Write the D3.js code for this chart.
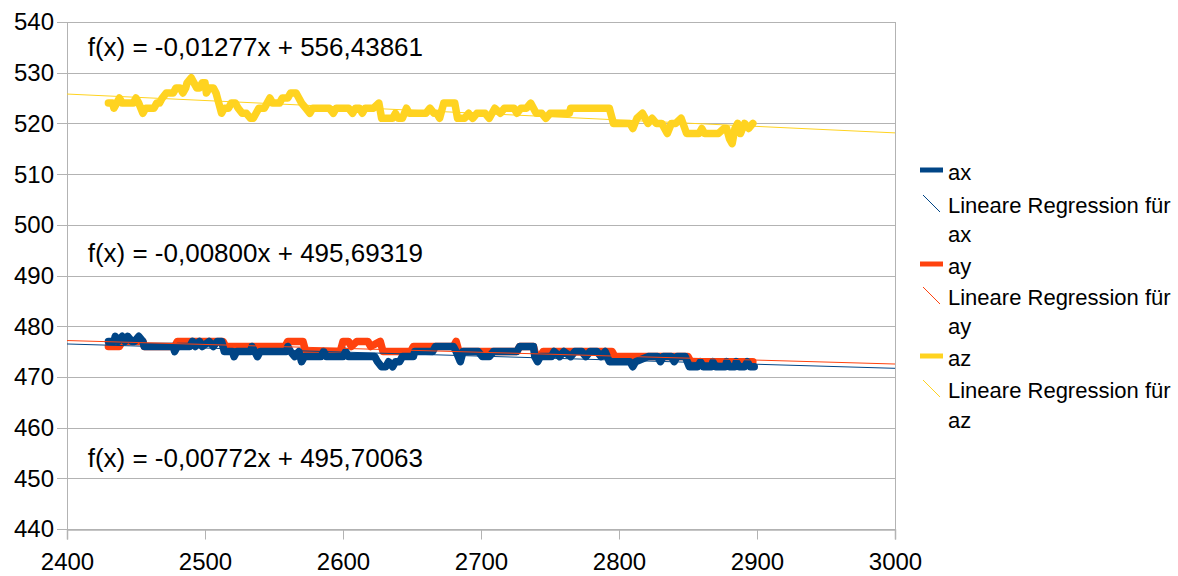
<!DOCTYPE html>
<html>
<head>
<meta charset="utf-8">
<script src="https://cdn.jsdelivr.net/npm/d3@7"></script>
<style>
  html, body { margin: 0; padding: 0; background: #fff; }
  svg { display: block; font-family: "Liberation Sans", Arial, sans-serif; }
</style>
</head>
<body>
<svg id="chart" width="1178" height="576"></svg>
<script>
// Axis ticks
const xTicks = [2400, 2500, 2600, 2700, 2800, 2900, 3000];
const yTicks = [440, 450, 460, 470, 480, 490, 500, 510, 520, 530, 540];

// Sensor series (sample index, reading)
const azX = [2430,2433,2434,2436,2438,2440,2448,2450,2452,2455,2457,2463,2465,2467,2469,2472,2477,2479,2482,2484,2486,2487,2490,2492,2494,2496,2498,2500,2501,2503,2506,2508,2510,2512,2514,2517,2519,2522,2524,2527,2530,2533,2535,2537,2539,2543,2545,2547,2549,2554,2556,2560,2562,2566,2568,2570,2573,2576,2578,2590,2593,2595,2604,2607,2609,2612,2614,2616,2622,2626,2628,2634,2636,2638,2640,2643,2646,2648,2660,2663,2666,2668,2670,2673,2681,2683,2688,2691,2694,2697,2703,2706,2710,2714,2717,2722,2724,2726,2729,2733,2736,2740,2744,2747,2750,2764,2765,2793,2796,2808,2810,2813,2817,2821,2824,2827,2831,2835,2838,2841,2845,2849,2858,2860,2862,2872,2876,2878,2880,2882,2884,2886,2888,2891,2894,2897];
const azY = [524,524,523,524,525,524,524,525,524,522,523,523,524,524,525,526,526,527,527,526,527,528,529,528,527,527,528,528,526,527,527,526,524,522,523,523,524,524,523,522,522,521,521,522,523,523,524,525,524,524,525,525,526,526,525,524,523,522,523,523,522,523,523,522,523,523,522,523,523,524,521,521,521,522,521,521,523,522,522,523,522,522,521,524,524,521,521,522,521,522,522,521,523,522,523,523,523,522,523,523,524,522,522,521,522,522,523,523,520,520,519,521,522,520,521,520,520,518,520,520,521,518,518,519,518,518,519,519,517,516,519,520,518,520,519,520];

const axX = [2430,2434,2435,2437,2440,2442,2444,2447,2449,2452,2455,2456,2477,2478,2480,2489,2491,2493,2496,2498,2503,2506,2509,2512,2514,2520,2521,2523,2533,2534,2536,2538,2540,2559,2560,2562,2565,2568,2570,2572,2584,2586,2588,2600,2602,2604,2612,2623,2625,2628,2631,2633,2636,2638,2641,2643,2651,2652,2665,2667,2680,2682,2685,2687,2695,2698,2701,2706,2709,2726,2728,2738,2739,2741,2743,2751,2753,2757,2760,2765,2768,2773,2776,2779,2784,2787,2790,2793,2808,2810,2812,2821,2828,2830,2832,2838,2840,2842,2848,2851,2857,2859,2861,2867,2868,2870,2877,2878,2880,2884,2885,2887,2891,2893,2895,2898];
const axY = [477,477,478,477,478,477,478,477,477,478,477,476,476,475,476,476,477,476,477,476,477,476,477,477,475,475,474,475,475,476,475,474,475,475,476,475,474,475,473,474,474,475,474,474,475,474,474,474,473,472,472,473,472,473,473,474,474,475,475,476,476,475,473,475,475,475,474,474,475,475,476,476,474,473,474,474,475,474,475,474,475,475,474,475,475,474,475,473,473,472,473,474,474,473,474,474,473,474,474,472,472,473,472,472,473,472,472,473,472,472,473,472,472,473,472,472];

const ayX = [2430,2438,2440,2455,2456,2478,2480,2513,2515,2558,2560,2571,2573,2598,2600,2604,2606,2610,2612,2618,2620,2627,2629,2649,2651,2680,2682,2684,2726,2728,2738,2740,2743,2745,2795,2797,2850,2852,2897];
const ayY = [476,476,477,477,476,476,477,477,476,476,477,477,475,475,477,477,476,477,477,477,476,477,475,475,476,476,477,475,475,476,476,474,474,475,475,474,474,473,473];

// Linear regression coefficients (slope, intercept)
const seriesNames = ["ax", "ay", "az"];
const seriesColors = ["#004586", "#ff420e", "#ffd320"];
const regSlopes = [-0.00800, -0.00772, -0.01277];
const regIntercepts = [495.69319, 495.70063, 556.43861];
const eqLabels = ["f(x) = -0,01277x + 556,43861", "f(x) = -0,00800x + 495,69319", "f(x) = -0,00772x + 495,70063"];
const eqAnchorX = [2415, 2415, 2415];
const eqAnchorY = [535, 494.5, 454];

(function draw() {
  const svg = d3.select("#chart");
  const pLeft = 67, pRight = 895, pTop = 22, pBottom = 529;

  const x = d3.scaleLinear().domain([2400, 3000]).range([pLeft, pRight]);
  const y = d3.scaleLinear().domain([440, 540]).range([pBottom, pTop]);

  const axisFont = 24;
  const eqFont = 26;
  const legendFont = 22;
  const gridColor = "#b3b3b3";

  // Horizontal grid
  svg.append("g")
    .selectAll("line")
    .data(yTicks)
    .join("line")
    .attr("x1", pLeft - 10).attr("x2", pRight)
    .attr("y1", d => Math.round(y(d)) + 0.5).attr("y2", d => Math.round(y(d)) + 0.5)
    .attr("stroke", gridColor).attr("stroke-width", 1);

  // Plot border: left axis and right edge
  svg.append("line").attr("x1", pLeft + 0.5).attr("x2", pLeft + 0.5).attr("y1", pTop).attr("y2", pBottom + 10)
    .attr("stroke", gridColor);
  svg.append("line").attr("x1", pRight + 0.5).attr("x2", pRight + 0.5).attr("y1", pTop).attr("y2", pBottom + 10)
    .attr("stroke", gridColor);

  // X axis
  const xAxis = d3.axisBottom(x).tickValues(xTicks).tickSize(10).tickPadding(13).tickFormat(d3.format("d"));
  const gx = svg.append("g").attr("transform", `translate(0,${Math.round(y(440)) + 0.5})`).call(xAxis);
  gx.select(".domain").attr("stroke", gridColor).attr("stroke-width", 1.5);
  gx.selectAll(".tick line").attr("stroke", gridColor);
  gx.selectAll(".tick text").attr("font-size", axisFont).attr("fill", "#000")
    .attr("font-family", "Liberation Sans, Arial, sans-serif");

  // Y axis labels
  svg.append("g").selectAll("text")
    .data(yTicks)
    .join("text")
    .attr("x", pLeft - 13)
    .attr("y", d => y(d))
    .attr("dy", "0.35em")
    .attr("text-anchor", "end")
    .attr("font-size", axisFont)
    .attr("fill", "#000")
    .text(d => d);

  // Data lines
  const series = [
    { name: "ax", xs: axX, ys: axY, color: seriesColors[0] },
    { name: "ay", xs: ayX, ys: ayY, color: seriesColors[1] },
    { name: "az", xs: azX, ys: azY, color: seriesColors[2] }
  ];
  const line = d3.line().x(d => x(d[0])).y(d => y(d[1]));

  // ay underneath ax, az on its own band
  [1, 0, 2].forEach(i => {
    const s = series[i];
    svg.append("path")
      .datum(d3.zip(s.xs, s.ys))
      .attr("d", line)
      .attr("fill", "none")
      .attr("stroke", s.color)
      .attr("stroke-width", 7.5)
      .attr("stroke-linejoin", "round")
      .attr("stroke-linecap", "round");
  });

  // Regression lines across the full domain
  regSlopes.forEach((m, i) => {
    const pts = x.domain().map(v => [v, m * v + regIntercepts[i]]);
    svg.append("path")
      .datum(pts)
      .attr("d", line)
      .attr("fill", "none")
      .attr("stroke", seriesColors[i])
      .attr("stroke-width", 1);
  });

  // Regression equations
  svg.append("g").selectAll("text")
    .data(eqLabels)
    .join("text")
    .attr("x", (d, i) => x(eqAnchorX[i]))
    .attr("y", (d, i) => y(eqAnchorY[i]))
    .attr("dy", "0.35em")
    .attr("font-size", eqFont)
    .attr("fill", "#000")
    .text(d => d);

  // Legend
  const legend = svg.append("g");
  const rowY = [172, 205, 234, 266, 297, 326, 358, 390, 420];
  seriesNames.forEach((name, i) => {
    const r0 = rowY[i * 3], r1 = rowY[i * 3 + 1], r2 = rowY[i * 3 + 2];
    legend.append("line")
      .attr("x1", 920).attr("x2", 943).attr("y1", r0 - 2).attr("y2", r0 - 2)
      .attr("stroke", seriesColors[i]).attr("stroke-width", 5);
    legend.append("text").attr("x", 948).attr("y", r0).attr("dy", "0.35em")
      .attr("font-size", legendFont).text(name);
    legend.append("line")
      .attr("x1", 923).attr("x2", 940).attr("y1", r1 - 10).attr("y2", r1 + 7)
      .attr("stroke", seriesColors[i]).attr("stroke-width", 1);
    legend.append("text").attr("x", 948).attr("y", r1).attr("dy", "0.35em")
      .attr("font-size", legendFont).text("Lineare Regression für");
    legend.append("text").attr("x", 948).attr("y", r2).attr("dy", "0.35em")
      .attr("font-size", legendFont).text(name);
  });
})();
</script>
</body>
</html>
